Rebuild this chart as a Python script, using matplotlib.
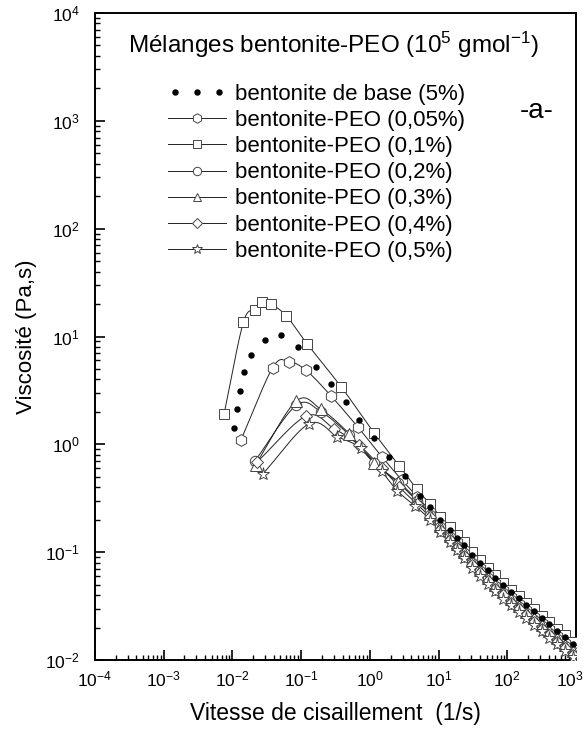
import numpy as np
import matplotlib
matplotlib.use("Agg")
import matplotlib.pyplot as plt
import matplotlib.transforms as mtransforms
from matplotlib.legend_handler import HandlerLine2D
from matplotlib.ticker import LogLocator, NullFormatter, FixedLocator

plt.rcParams['font.family'] = ['Liberation Sans', 'DejaVu Sans']
plt.rcParams['mathtext.fontset'] = 'custom'
plt.rcParams['mathtext.rm'] = 'Liberation Sans'
plt.rcParams['mathtext.it'] = 'Liberation Sans:italic'
plt.rcParams['mathtext.default'] = 'regular'

# ---- data (shear rate 1/s, viscosity Pa.s) ----
shear_tail = [7.6, 10.6, 14.6, 18.8, 23.8, 31, 40, 52, 67, 87, 113, 146, 189, 245, 317, 410, 531, 687, 890]

base_x = [0.01045, 0.01167, 0.0130, 0.01475, 0.01846, 0.0298, 0.0505, 0.0893, 0.165, 0.272, 0.455, 0.703, 1.15, 1.92, 3.2, 5.3]
base_y = [1.43, 2.13, 3.15, 4.70, 6.71, 9.29, 10.4, 7.96, 5.26, 3.63, 2.47, 1.69, 1.14, 0.77, 0.51, 0.335]
base_tail = [0.262, 0.200, 0.161, 0.136, 0.116, 0.095, 0.080, 0.068, 0.058, 0.050, 0.043, 0.0372, 0.0325, 0.0283, 0.0246, 0.0214, 0.0186, 0.0162, 0.0141]

p005_x = [0.0133, 0.0386, 0.066, 0.118, 0.270, 0.673, 1.49, 2.91, 4.91]
p005_y = [1.10, 5.15, 5.85, 4.86, 2.83, 1.44, 0.77, 0.468, 0.327]
p005_tail = [0.238, 0.183, 0.146, 0.123, 0.105, 0.086, 0.072, 0.061, 0.052, 0.045, 0.0385, 0.0334, 0.029, 0.0253, 0.022, 0.0192, 0.0167, 0.0145, 0.0126]

p01_x = [0.00755, 0.0144, 0.0215, 0.0272, 0.0364, 0.061, 0.123, 0.385, 1.15, 2.66, 4.82]
p01_y = [1.91, 13.5, 17.7, 20.8, 20.0, 15.5, 8.5, 3.39, 1.28, 0.634, 0.385]
p01_tail = [0.278, 0.213, 0.171, 0.144, 0.123, 0.100, 0.084, 0.071, 0.061, 0.052, 0.045, 0.039, 0.0341, 0.0296, 0.0257, 0.0224, 0.0194, 0.0169, 0.0147]

p02_x = [0.0212, 0.085, 0.195, 0.50, 1.15, 2.6, 4.8]
p02_y = [0.70, 2.30, 2.00, 1.22, 0.67, 0.44, 0.30]
p02_tail = [0.222, 0.170, 0.137, 0.115, 0.098, 0.080, 0.067, 0.057, 0.049, 0.042, 0.036, 0.0312, 0.0273, 0.0237, 0.0206, 0.0179, 0.0155, 0.0135, 0.0118]

p03_x = [0.0218, 0.0843, 0.193, 0.503, 1.15, 2.6, 4.8]
p03_y = [0.65, 2.51, 2.12, 1.25, 0.676, 0.45, 0.31]
p03_tail = [0.228, 0.175, 0.140, 0.118, 0.101, 0.082, 0.069, 0.058, 0.050, 0.043, 0.037, 0.032, 0.028, 0.0243, 0.0211, 0.0184, 0.0159, 0.0139, 0.0121]

p04_x = [0.0225, 0.118, 0.30, 0.70, 1.5, 2.7, 4.8]
p04_y = [0.68, 1.83, 1.40, 0.98, 0.60, 0.40, 0.28]
p04_tail = [0.211, 0.162, 0.130, 0.109, 0.093, 0.076, 0.064, 0.054, 0.046, 0.040, 0.034, 0.0296, 0.0259, 0.0225, 0.0195, 0.017, 0.0147, 0.0128, 0.0112]

p05_x = [0.0276, 0.130, 0.336, 0.745, 1.49, 2.51, 4.5]
p05_y = [0.531, 1.55, 1.18, 0.92, 0.56, 0.37, 0.27]
p05_tail = [0.200, 0.153, 0.123, 0.104, 0.089, 0.072, 0.060, 0.051, 0.044, 0.037, 0.0324, 0.0281, 0.0246, 0.0213, 0.0185, 0.0161, 0.014, 0.0122, 0.0106]

labels = ["bentonite de base (5%)", "bentonite-PEO (0,05%)", "bentonite-PEO (0,1%)",
          "bentonite-PEO (0,2%)", "bentonite-PEO (0,3%)", "bentonite-PEO (0,4%)",
          "bentonite-PEO (0,5%)"]

x_ticks = [1e-4, 1e-3, 1e-2, 1e-1, 1e0, 1e1, 1e2, 1e3]
y_ticks = [1e-2, 1e-1, 1e0, 1e1, 1e2, 1e3, 1e4]


def smooth(x, y, n=14):
    P = np.column_stack([np.log10(x), np.log10(y)])
    P = np.vstack([2 * P[0] - P[1], P, 2 * P[-1] - P[-2]])
    out = []
    t = np.linspace(0, 1, n, endpoint=False)[:, None]
    for i in range(1, len(P) - 2):
        p0, p1, p2, p3 = P[i - 1], P[i], P[i + 1], P[i + 2]
        seg = 0.5 * ((2 * p1) + (-p0 + p2) * t + (2 * p0 - 5 * p1 + 4 * p2 - p3) * t ** 2
                     + (-p0 + 3 * p1 - 3 * p2 + p3) * t ** 3)
        out.append(seg)
    out.append(P[-2][None, :])
    c = np.vstack(out)
    return 10 ** c[:, 0], 10 ** c[:, 1]


W, H = 588, 733
fig = plt.figure(figsize=(W / 100, H / 100), dpi=100)
ax = fig.add_axes([95 / W, 1 - 660 / H, (576 - 95) / W, (660 - 13) / H])

line_c = '#222222'
edge_c = '#444444'

series = [
    (p01_x, p01_y, p01_tail, 's', 7.0, labels[2]),
    (p005_x, p005_y, p005_tail, 'h', 8.5, labels[1]),
    (p02_x, p02_y, p02_tail, 'o', 7.5, labels[3]),
    (p03_x, p03_y, p03_tail, '^', 8.0, labels[4]),
    (p04_x, p04_y, p04_tail, 'D', 6.5, labels[5]),
    (p05_x, p05_y, p05_tail, '*', 9.5, labels[6]),
]

handles = {}
for xs, ys, tail, mk, ms, lab in series:
    X = np.array(list(xs) + shear_tail)
    Y = np.array(list(ys) + tail)
    sx, sy = smooth(X, Y)
    ax.plot(sx, sy, '-', color=line_c, lw=0.7, zorder=2)
    ax.plot(X, Y, linestyle='none', marker=mk, ms=ms, mfc='white', mec=edge_c, mew=0.7, zorder=3)
    h, = ax.plot([], [], '-', color=line_c, lw=0.7, marker=mk, ms=ms * 0.8,
                 mfc='white', mec=edge_c, mew=0.7)
    handles[lab] = h

bx = np.array(base_x + shear_tail)
by = np.array(base_y + base_tail)
ax.plot(bx, by, linestyle='none', marker='o', ms=3.6, color='black', zorder=4)
hb, = ax.plot([], [], linestyle='none', marker='o', ms=3.6, color='black')
handles[labels[0]] = hb

ax.set_xscale('log')
ax.set_yscale('log')
ax.set_xlim(1e-4, 1e3)
ax.set_ylim(1e-2, 1e4)

ax.xaxis.set_major_locator(FixedLocator(x_ticks))
ax.yaxis.set_major_locator(FixedLocator(y_ticks))
ax.xaxis.set_minor_locator(LogLocator(base=10, subs=np.arange(2, 10), numticks=100))
ax.yaxis.set_minor_locator(LogLocator(base=10, subs=np.arange(2, 10), numticks=100))
ax.xaxis.set_minor_formatter(NullFormatter())
ax.yaxis.set_minor_formatter(NullFormatter())

ax.tick_params(which='major', direction='in', length=7, width=1.2, labelsize=12.5,
               top=False, right=False)
ax.tick_params(axis='x', which='major', pad=7)
ax.tick_params(axis='y', which='major', pad=11)
ax.tick_params(which='minor', direction='in', length=3.5, width=1.0, top=False, right=False)
for s in ax.spines.values():
    s.set_linewidth(1.4)

ax.set_xlabel("Vitesse de cisaillement  (1/s)", fontsize=16.5, labelpad=9)
ax.set_ylabel("Viscosité (Pa,s)", fontsize=16, labelpad=6)

ax.text(128 / W, 1 - 45 / H, "Mélanges bentonite-PEO (10$^5$ gmol$^{-1}$)", transform=fig.transFigure,
        fontsize=17.5, va='center', ha='left')
ax.text(537 / W, 1 - 111 / H, "-a-", transform=fig.transFigure, fontsize=20, va='center', ha='center')

hl = [handles[l] for l in labels]
leg = ax.legend(hl, labels, loc='upper left', bbox_to_anchor=(168 / W, 1 - 84 / H),
                bbox_transform=fig.transFigure, frameon=False, fontsize=16,
                handlelength=2.6, handletextpad=0.4, labelspacing=0.23, borderpad=0,
                borderaxespad=0, numpoints=1,
                handler_map={hb: HandlerLine2D(numpoints=3)})

# keep the last x tick label inside the canvas
fig.canvas.draw()
last = ax.get_xticklabels()[-1]
last.set_transform(last.get_transform() + mtransforms.ScaledTranslation(-6 / 100, 0, fig.dpi_scale_trans))

fig.savefig("out.png", dpi=100)
